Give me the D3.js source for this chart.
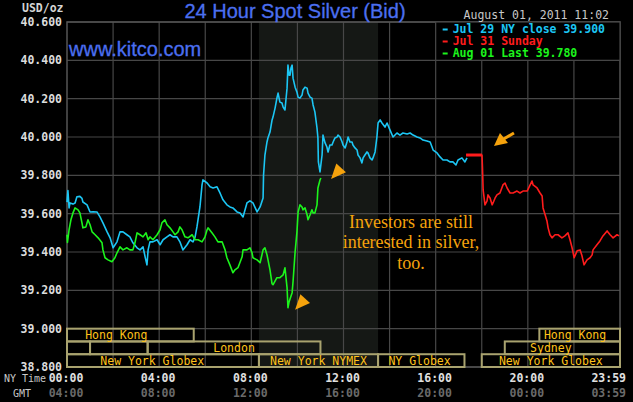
<!DOCTYPE html>
<html>
<head>
<meta charset="utf-8">
<script src="https://cdn.jsdelivr.net/npm/d3@7"></script>
<style>
  html, body { margin: 0; padding: 0; background: #000; }
  svg { display: block; }
</style>
</head>
<body>
<svg id="chart" width="633" height="402"></svg>
<script>
// values: [NY hour, price]
const jul29 = [[0.00,39.66],[0.04,39.72],[0.09,39.63],[0.13,39.656],[0.26,39.65],[0.35,39.656],[0.43,39.688],[0.56,39.69],[0.65,39.68],[0.69,39.661],[0.87,39.646],[1.0,39.609],[1.13,39.61],[1.30,39.609],[1.43,39.583],[1.56,39.552],[1.74,39.505],[1.87,39.474],[2.0,39.422],[2.17,39.453],[2.30,39.505],[2.43,39.505],[2.60,39.49],[2.73,39.479],[2.86,39.448],[3.04,39.422],[3.17,39.411],[3.30,39.427],[3.39,39.375],[3.47,39.333],[3.52,39.411],[3.60,39.453],[3.73,39.453],[3.91,39.464],[4.04,39.438],[4.17,39.464],[4.34,39.479],[4.47,39.49],[4.60,39.479],[4.77,39.479],[4.90,39.453],[5.03,39.411],[5.21,39.438],[5.34,39.464],[5.47,39.453],[5.56,39.479],[5.64,39.531],[5.77,39.635],[5.86,39.75],[5.90,39.776],[6.08,39.76],[6.21,39.74],[6.34,39.734],[6.51,39.74],[6.64,39.708],[6.77,39.672],[6.94,39.646],[7.07,39.635],[7.20,39.63],[7.38,39.609],[7.51,39.604],[7.64,39.583],[7.81,39.656],[7.94,39.667],[8.07,39.656],[8.25,39.609],[8.38,39.635],[8.51,39.682],[8.53,39.802],[8.59,39.906],[8.68,39.974],[8.72,39.995],[8.81,40.026],[8.90,40.089],[8.94,40.104],[9.03,40.151],[9.11,40.203],[9.16,40.229],[9.24,40.182],[9.33,40.177],[9.38,40.156],[9.46,40.141],[9.55,40.255],[9.59,40.375],[9.64,40.323],[9.68,40.323],[9.72,40.36],[9.77,40.375],[9.81,40.307],[9.90,40.26],[9.98,40.234],[10.03,40.208],[10.11,40.203],[10.20,40.219],[10.24,40.245],[10.33,40.26],[10.42,40.255],[10.46,40.229],[10.55,40.208],[10.63,40.203],[10.68,40.167],[10.76,40.13],[10.85,40.047],[10.89,39.995],[10.91,39.87],[10.98,39.818],[11.07,39.906],[11.11,40.01],[11.20,39.969],[11.28,39.948],[11.33,39.922],[11.41,39.958],[11.50,39.958],[11.55,39.974],[11.63,39.995],[11.72,40.0],[11.76,40.01],[11.85,40.0],[11.94,39.974],[11.98,39.958],[12.07,39.943],[12.15,39.974],[12.20,40.0],[12.28,39.974],[12.37,39.974],[12.41,39.958],[12.50,39.943],[12.59,39.932],[12.63,39.906],[12.72,39.891],[12.80,39.865],[12.85,39.891],[12.93,39.906],[13.02,39.922],[13.06,39.917],[13.15,39.891],[13.24,39.88],[13.28,39.891],[13.37,39.922],[13.45,40.0],[13.50,40.073],[13.59,40.089],[13.67,40.073],[13.80,40.052],[13.89,40.073],[14.02,40.036],[14.15,40.0],[14.32,40.021],[14.45,40.01],[14.58,40.021],[14.76,40.016],[14.89,40.021],[15.02,40.01],[15.19,40.0],[15.32,39.995],[15.45,39.984],[15.62,39.979],[15.76,39.974],[15.89,39.932],[16.06,39.917],[16.19,39.896],[16.32,39.88],[16.49,39.88],[16.62,39.87],[16.75,39.87],[16.88,39.854],[16.97,39.88],[17.14,39.891],[17.27,39.87],[17.36,39.891]];

const jul31 = [[17.32,39.906],[18.01,39.906],[18.03,39.844],[18.06,39.724],[18.14,39.646],[18.23,39.667],[18.27,39.698],[18.36,39.682],[18.45,39.646],[18.49,39.656],[18.58,39.682],[18.66,39.698],[18.79,39.708],[18.92,39.75],[19.01,39.76],[19.10,39.734],[19.23,39.708],[19.36,39.708],[19.53,39.718],[19.66,39.708],[19.79,39.718],[19.97,39.718],[20.10,39.75],[20.18,39.77],[20.23,39.75],[20.40,39.734],[20.53,39.708],[20.62,39.692],[20.66,39.63],[20.75,39.594],[20.83,39.562],[20.88,39.526],[20.96,39.49],[21.05,39.474],[21.18,39.49],[21.31,39.49],[21.48,39.474],[21.61,39.484],[21.74,39.5],[21.83,39.464],[21.92,39.422],[22.01,39.37],[22.14,39.406],[22.27,39.411],[22.35,39.38],[22.44,39.333],[22.57,39.359],[22.70,39.37],[22.79,39.385],[22.83,39.411],[23.00,39.438],[23.13,39.458],[23.26,39.484],[23.44,39.51],[23.57,39.49],[23.70,39.474],[23.87,39.49],[23.96,39.484]];

const aug01 = [[0.00,39.49],[0.02,39.45],[0.09,39.516],[0.17,39.568],[0.26,39.604],[0.35,39.63],[0.48,39.62],[0.56,39.604],[0.65,39.552],[0.69,39.526],[0.82,39.531],[0.91,39.568],[1.0,39.542],[1.09,39.505],[1.22,39.49],[1.35,39.474],[1.52,39.448],[1.56,39.411],[1.65,39.37],[1.78,39.359],[1.95,39.349],[2.08,39.37],[2.17,39.396],[2.30,39.427],[2.43,39.411],[2.60,39.422],[2.73,39.411],[2.86,39.411],[2.95,39.448],[3.04,39.5],[3.17,39.49],[3.30,39.479],[3.43,39.5],[3.52,39.464],[3.60,39.479],[3.73,39.464],[3.91,39.49],[4.04,39.516],[4.12,39.552],[4.25,39.568],[4.34,39.542],[4.47,39.526],[4.60,39.505],[4.69,39.49],[4.82,39.505],[4.90,39.531],[4.99,39.516],[5.12,39.479],[5.25,39.474],[5.43,39.49],[5.56,39.464],[5.69,39.464],[5.86,39.453],[5.99,39.479],[6.08,39.516],[6.12,39.526],[6.29,39.5],[6.42,39.479],[6.55,39.453],[6.73,39.453],[6.86,39.411],[6.94,39.37],[7.07,39.333],[7.20,39.292],[7.29,39.307],[7.42,39.318],[7.60,39.375],[7.64,39.411],[7.81,39.411],[7.94,39.422],[8.03,39.396],[8.07,39.37],[8.25,39.359],[8.38,39.344],[8.51,39.411],[8.59,39.422],[8.68,39.385],[8.81,39.307],[8.90,39.234],[8.94,39.229],[9.11,39.266],[9.24,39.266],[9.38,39.281],[9.46,39.318],[9.55,39.214],[9.59,39.109],[9.64,39.141],[9.77,39.188],[9.81,39.245],[9.90,39.401],[9.98,39.505],[10.03,39.609],[10.11,39.646],[10.20,39.635],[10.24,39.62],[10.33,39.63],[10.42,39.594],[10.46,39.568],[10.55,39.594],[10.63,39.62],[10.68,39.604],[10.76,39.604],[10.85,39.646],[10.89,39.734],[10.98,39.776],[11.02,39.786]];

const seriesNames = ["Jul 29 NY close 39.900", "Jul 31 Sunday", "Aug 01 Last 39.780"];
const seriesColors = ["#1cc6f4", "#ff1c1c", "#1cf41c"];

const yTicks = [38.8, 39.0, 39.2, 39.4, 39.6, 39.8, 40.0, 40.2, 40.4, 40.6];
const xTickHours = [0, 4, 8, 12, 16, 20, 24];
const nyLabels = ["00:00", "04:00", "08:00", "12:00", "16:00", "20:00", "23:59"];
const gmtLabels = ["04:00", "08:00", "12:00", "16:00", "20:00", "00:00", "03:59"];
const gridHours = [2, 4, 6, 8, 10, 12, 14, 16, 18, 20, 22];

// trading sessions: row, start hour, end hour, label, hour where label sits
const sessions = [
  { row: 0, start: 0, end: 5.5, name: "Hong Kong", at: 2.14 },
  { row: 0, start: 20.5, end: 24, name: "Hong Kong", at: 22.05 },
  { row: 1, start: 0, end: 1.0, name: "" },
  { row: 1, start: 1.0, end: 3.5, name: "" },
  { row: 1, start: 3.5, end: 11, name: "London" },
  { row: 1, start: 19.0, end: 24, name: "Sydney", at: 21.0 },
  { row: 2, start: 0, end: 8.33, name: "New York Globex", at: 3.7 },
  { row: 2, start: 8.33, end: 13.5, name: "New York NYMEX" },
  { row: 2, start: 13.5, end: 17.25, name: "NY Globex", at: 15.3 },
  { row: 2, start: 18.0, end: 24, name: "New York Globex" }
];
const nymex = [8.33, 13.5];

const noteLines = ["Investors are still", "interested in silver,", "too."];

const svg = d3.select("#chart");
const mono = "'DejaVu Sans Mono', monospace";
const sans = "'Liberation Sans', Arial, sans-serif";
const gridColor = "#474747";
const orange = "#f5a20c";
const blue = "#4b6ff0";

const x = d3.scaleLinear().domain([0, 24]).range([67, 620]);
const y = d3.scaleLinear().domain([38.8, 40.6]).range([367, 22]);

svg.append("rect").attr("width", 633).attr("height", 402).attr("fill", "#000");

// NYMEX hours shading
svg.append("rect")
  .attr("x", x(nymex[0])).attr("y", y(40.6))
  .attr("width", x(nymex[1]) - x(nymex[0]))
  .attr("height", y(38.8) - y(40.6))
  .attr("fill", "#151815");

// grid
svg.selectAll("line.hgrid")
  .data(yTicks)
  .join("line")
  .attr("class", "hgrid")
  .attr("x1", x(0)).attr("x2", x(24))
  .attr("y1", d => y(d)).attr("y2", d => y(d))
  .attr("stroke", gridColor).attr("stroke-width", 1.2);

svg.selectAll("line.vgrid")
  .data(gridHours)
  .join("line")
  .attr("class", "vgrid")
  .attr("x1", d => x(d)).attr("x2", d => x(d))
  .attr("y1", y(40.6)).attr("y2", y(38.8))
  .attr("stroke", gridColor).attr("stroke-width", 1.2);

svg.append("rect")
  .attr("x", x(0)).attr("y", y(40.6))
  .attr("width", x(24) - x(0)).attr("height", y(38.8) - y(40.6))
  .attr("fill", "none").attr("stroke", "#555").attr("stroke-width", 1.5);

// y labels
svg.selectAll("text.ylab")
  .data(yTicks)
  .join("text")
  .attr("class", "ylab")
  .attr("x", 62)
  .attr("y", d => y(d) + 4)
  .attr("text-anchor", "end")
  .attr("font-family", mono).attr("font-weight", "bold").attr("font-size", 11.5)
  .attr("fill", "#dcdcdc")
  .text(d => d3.format(".3f")(d));

svg.append("text")
  .attr("x", 22).attr("y", 11.5)
  .attr("font-family", mono).attr("font-weight", "bold").attr("font-size", 11.5)
  .attr("fill", "#d4d4d4")
  .text("USD/oz");

// session bars
const rows = d3.scaleBand().domain([0, 1, 2]).range([y(39.0), y(38.8)]);
const sessionColor = "#a9a36f";

svg.selectAll("rect.session")
  .data(sessions)
  .join("rect")
  .attr("class", "session")
  .attr("x", d => x(d.start))
  .attr("y", d => rows(d.row))
  .attr("width", d => x(d.end) - x(d.start))
  .attr("height", rows.bandwidth())
  .attr("fill", "none")
  .attr("stroke", sessionColor)
  .attr("stroke-width", 2);

svg.selectAll("text.session")
  .data(sessions.filter(d => d.name))
  .join("text")
  .attr("class", "session")
  .attr("x", d => x(d.at !== undefined ? d.at : (d.start + d.end) / 2))
  .attr("y", d => rows(d.row) + rows.bandwidth() / 2 + 4)
  .attr("text-anchor", "middle")
  .attr("font-family", mono).attr("font-size", 11.5)
  .attr("fill", "#ffc21a")
  .text(d => d.name);

// price lines
const line = d3.line().x(d => x(d[0])).y(d => y(d[1]));
[jul29, jul31, aug01].forEach((s, i) => {
  svg.append("path")
    .datum(s)
    .attr("d", line)
    .attr("fill", "none")
    .attr("stroke", seriesColors[i])
    .attr("stroke-width", 1.6)
    .attr("stroke-linejoin", "round");
});
// flat Sunday segment drawn heavier
svg.append("path")
  .datum(jul31.slice(0, 2))
  .attr("d", line)
  .attr("stroke", seriesColors[1])
  .attr("stroke-width", 3);

// legend box
svg.append("rect")
  .attr("x", x(16)).attr("y", y(40.6))
  .attr("width", x(24) - x(16)).attr("height", y(40.4) - y(40.6))
  .attr("fill", "#000").attr("stroke", gridColor).attr("stroke-width", 1.2);

const legend = svg.selectAll("g.legend")
  .data(seriesNames)
  .join("g")
  .attr("class", "legend")
  .attr("transform", (d, i) => `translate(${x(16) + 7},${y(40.6) + 11 + i * 12})`);

legend.append("rect")
  .attr("x", 0).attr("y", -4.5).attr("width", 5).attr("height", 2)
  .attr("fill", (d, i) => seriesColors[i]);

legend.append("text")
  .attr("x", 10).attr("y", 0)
  .attr("font-family", mono).attr("font-weight", "bold").attr("font-size", 11.5)
  .attr("fill", (d, i) => seriesColors[i])
  .text(d => d);

// titles
svg.append("text")
  .attr("x", 295).attr("y", 18)
  .attr("text-anchor", "middle")
  .attr("font-family", sans).attr("font-size", 20)
  .attr("fill", blue)
  .attr("stroke", blue).attr("stroke-width", 0.3)
  .text("24 Hour Spot Silver (Bid)");

svg.append("text")
  .attr("x", 69).attr("y", 56)
  .attr("font-family", sans).attr("font-size", 20)
  .attr("fill", blue)
  .attr("stroke", blue).attr("stroke-width", 0.3)
  .text("www.kitco.com");

svg.append("text")
  .attr("x", 609).attr("y", 19)
  .attr("text-anchor", "end")
  .attr("font-family", mono).attr("font-size", 11.5)
  .attr("fill", "#c8c8c8")
  .text("August 01, 2011 11:02");

// x labels
svg.selectAll("text.ny")
  .data(xTickHours)
  .join("text")
  .attr("class", "ny")
  .attr("x", (d, i) => i === xTickHours.length - 1 ? x(d) + 6 : x(d) - 1)
  .attr("y", 382)
  .attr("text-anchor", (d, i) => i === xTickHours.length - 1 ? "end" : "middle")
  .attr("font-family", mono).attr("font-weight", "bold").attr("font-size", 11.5)
  .attr("fill", "#e0e0e0")
  .text((d, i) => nyLabels[i]);

svg.selectAll("text.gmt")
  .data(xTickHours)
  .join("text")
  .attr("class", "gmt")
  .attr("x", (d, i) => i === xTickHours.length - 1 ? x(d) + 6 : x(d) - 1)
  .attr("y", 397)
  .attr("text-anchor", (d, i) => i === xTickHours.length - 1 ? "end" : "middle")
  .attr("font-family", mono).attr("font-weight", "bold").attr("font-size", 11.5)
  .attr("fill", "#6a6a6a")
  .text((d, i) => gmtLabels[i]);

svg.append("text")
  .attr("x", 4).attr("y", 382)
  .attr("font-family", mono).attr("font-size", 10)
  .attr("fill", "#c8c8c8")
  .text("NY Time");

svg.append("text")
  .attr("x", 13).attr("y", 397)
  .attr("font-family", mono).attr("font-size", 10)
  .attr("fill", "#c8c8c8")
  .text("GMT");

// annotation
svg.selectAll("text.note")
  .data(noteLines)
  .join("text")
  .attr("class", "note")
  .attr("x", x(14.93))
  .attr("y", (d, i) => y(39.526) + i * 20.5)
  .attr("text-anchor", "middle")
  .attr("font-family", "'Liberation Serif', 'Times New Roman', serif").attr("font-size", 18)
  .attr("fill", orange)
  .text(d => d);

// arrowheads pointing down-left at the marks
function arrowHead(tx, ty, len, halfW) {
  const a = Math.atan2(-11, 10);
  const bx = tx + len * Math.cos(a), by = ty + len * Math.sin(a);
  const px = -Math.sin(a) * halfW, py = Math.cos(a) * halfW;
  return `M${tx},${ty}L${bx + px},${by + py}L${bx - px},${by - py}Z`;
}

svg.append("path").attr("d", arrowHead(x(11.46), y(39.781), 15, 6.5)).attr("fill", orange);
svg.append("path").attr("d", arrowHead(x(9.90), y(39.099), 15, 6.5)).attr("fill", orange);

// arrow with shaft toward the Sunday open
const tip = [x(18.53), y(39.953)];
svg.append("line")
  .attr("x1", tip[0] + 8).attr("y1", tip[1] - 6)
  .attr("x2", tip[0] + 20).attr("y2", tip[1] - 13)
  .attr("stroke", orange).attr("stroke-width", 3);
svg.append("path")
  .attr("d", `M${tip[0]},${tip[1]}L${tip[0] + 6},${tip[1] - 13}L${tip[0] + 14},${tip[1] - 3}Z`)
  .attr("fill", orange);
</script>
</body>
</html>
